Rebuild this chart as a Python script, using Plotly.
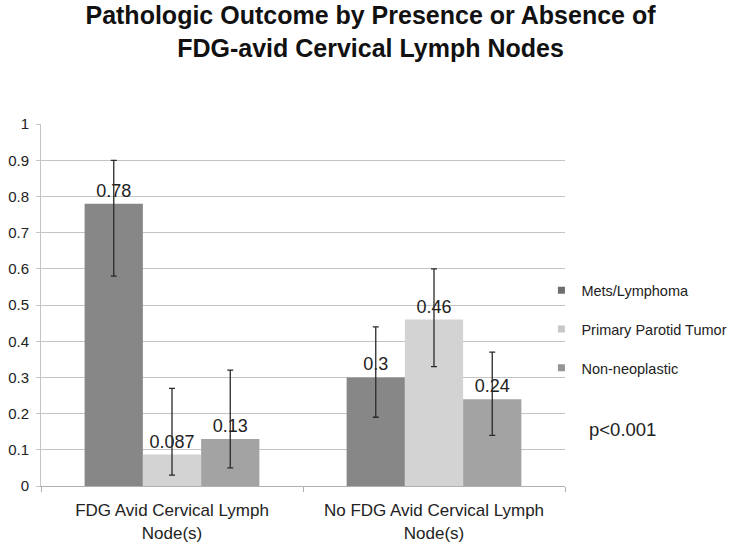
import plotly.graph_objects as go

categories = ["FDG Avid Cervical Lymph<br>Node(s)", "No FDG Avid Cervical Lymph<br>Node(s)"]
series_names = ["Mets/Lymphoma", "Primary Parotid Tumor", "Non-neoplastic"]
mets = [0.78, 0.3]
primary = [0.087, 0.46]
nonneo = [0.13, 0.24]
mets_hi = [0.9, 0.44]
mets_lo = [0.58, 0.19]
primary_hi = [0.27, 0.6]
primary_lo = [0.03, 0.33]
nonneo_hi = [0.32, 0.37]
nonneo_lo = [0.05, 0.14]
labels_mets = ["0.78", "0.3"]
labels_primary = ["0.087", "0.46"]
labels_nonneo = ["0.13", "0.24"]
ytick_vals = [0, 0.1, 0.2, 0.3, 0.4, 0.5, 0.6, 0.7, 0.8, 0.9, 1]
ytick_text = ["0", "0.1", "0.2", "0.3", "0.4", "0.5", "0.6", "0.7", "0.8", "0.9", "1"]

bar_colors = ["#878787", "#d3d3d3", "#a3a3a3"]
legend_colors = ["#6e6e6e", "#c8c8c8", "#959595"]

series = [
    (mets, mets_hi, mets_lo, labels_mets),
    (primary, primary_hi, primary_lo, labels_primary),
    (nonneo, nonneo_hi, nonneo_lo, labels_nonneo),
]

FONT = "Liberation Sans, Arial"

fig = go.Figure()
for i, (vals, hi, lo, labs) in enumerate(series):
    fig.add_trace(go.Bar(
        x=categories, y=vals, name=series_names[i], showlegend=False,
        marker=dict(color=bar_colors[i], line=dict(width=0)),
        text=labs, textposition="outside", constraintext="none", cliponaxis=False,
        textfont=dict(family=FONT, size=18, color="#222222"),
        error_y=dict(type="data", symmetric=False,
                     array=[h - v for h, v in zip(hi, vals)],
                     arrayminus=[v - l for v, l in zip(vals, lo)],
                     color="#2a2a2a", thickness=1.3, width=3),
    ))

for i in range(3):
    fig.add_trace(go.Scatter(
        x=[None], y=[None], mode="markers", name=series_names[i],
        legendgroup=f"g{i}",
        marker=dict(symbol="square", size=7, color=legend_colors[i]),
    ))

fig.add_annotation(
    text="p<0.001", xref="paper", yref="y", x=1.042, y=0.155,
    xanchor="left", yanchor="middle", showarrow=False,
    font=dict(family=FONT, size=18.5, color="#222222"),
)

fig.update_layout(
    width=750, height=546,
    paper_bgcolor="white", plot_bgcolor="white",
    margin=dict(l=41, r=185, t=124, b=60),
    barmode="group", bargap=0.333, bargroupgap=0,
    title=dict(
        text="<b>Pathologic Outcome by Presence or Absence of<br>FDG-avid Cervical Lymph Nodes</b>",
        x=0.494, xanchor="center", xref="container",
        y=1 - 24 / 546, yanchor="middle", yref="container",
        font=dict(family=FONT, size=25, color="#111111"),
    ),
    font=dict(family=FONT, color="#222222"),
    legend=dict(
        x=0.955, xanchor="left", y=0.585, yanchor="top",
        xref="paper", yref="paper",
        traceorder="grouped", tracegroupgap=17,
        font=dict(size=14.5, color="#222222"),
        itemwidth=30, bgcolor="rgba(0,0,0,0)",
    ),
    xaxis=dict(
        showline=True, linecolor="#b0b0b0", linewidth=1,
        ticks="outside", ticklen=5, tickcolor="#b0b0b0",
        tickson="boundaries", ticklabelstandoff=9,
        tickfont=dict(size=17, color="#222222"),
        showgrid=False, automargin=False,
    ),
    yaxis=dict(
        range=[0, 1.0005], tickvals=ytick_vals, ticktext=ytick_text,
        showgrid=True, gridcolor="#c4c4c4", gridwidth=1,
        showline=True, linecolor="#c4c4c4", linewidth=1,
        ticks="outside", ticklen=4, tickcolor="#c4c4c4",
        zeroline=False, automargin=False, ticklabelstandoff=4,
        tickfont=dict(size=15, color="#222222"),
    ),
)

fig.write_html("out.html", config={"displayModeBar": False},
               post_script="document.body.style.margin='0';")
